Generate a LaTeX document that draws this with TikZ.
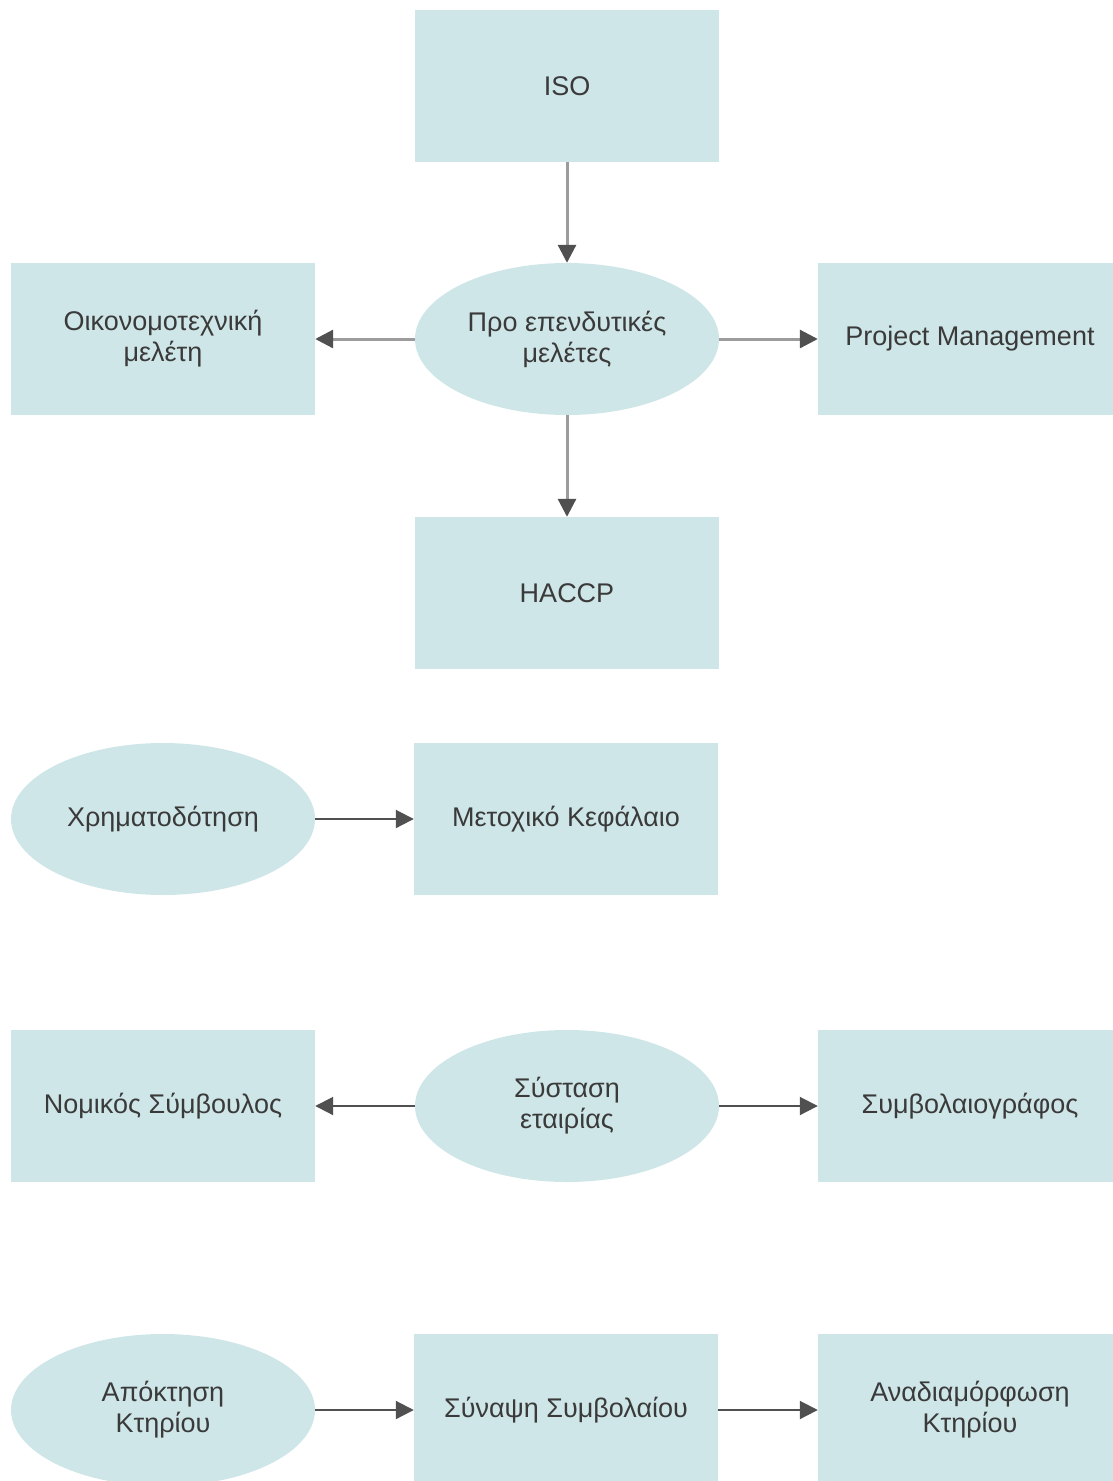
\documentclass[tikz,border=0pt]{standalone}
\usepackage{fontspec}
\setmainfont{Liberation Sans}
\usetikzlibrary{shapes.geometric,arrows.meta}
\definecolor{boxfill}{HTML}{CFE6E8}
\definecolor{txt}{HTML}{3A3A3A}
\definecolor{lightline}{HTML}{9C9C9C}
\definecolor{darkline}{HTML}{505050}
\tikzset{
  x=1pt, y=-1pt,
  base/.style={fill=boxfill, draw=none, inner sep=0pt, text=txt, align=center,
    font=\fontsize{27}{31}\selectfont},
  stepbox/.style={base, rectangle, minimum width=304pt, minimum height=152pt},
  oval/.style={base, ellipse, minimum width=304pt, minimum height=152pt},
  softarrow/.style={draw=lightline, line width=3pt,
    -{Triangle[length=18pt,width=18pt,color=darkline]}},
  hardarrow/.style={draw=darkline, line width=2pt,
    -{Triangle[length=18pt,width=18pt,color=darkline]}},
}
\begin{document}
\begin{tikzpicture}
\useasboundingbox (0,0) rectangle (1113,1481);
\clip (0,0) rectangle (1113,1481);

% pre-investment studies
\node[stepbox] (iso) at (567,86) {ISO};
\node[oval] (pre) at (567,339) {Προ επενδυτικές\\μελέτες};
\node[stepbox] (econ) at (163,339) {Οικονομοτεχνική\\μελέτη};
\node[stepbox] (pm) at (970,339) {Project Management};
\node[stepbox] (haccp) at (567,593) {HACCP};

\draw[softarrow] (iso) -- (pre);
\draw[softarrow] (pre) -- (econ);
\draw[softarrow] (pre) -- (pm);
\draw[softarrow] (pre) -- (haccp);

% funding
\node[oval] (fund) at (163,819) {Χρηματοδότηση};
\node[stepbox] (equity) at (566,819) {Μετοχικό Κεφάλαιο};
\draw[hardarrow] (fund) -- (equity);

% company formation
\node[oval] (found) at (567,1106) {Σύσταση\\εταιρίας};
\node[stepbox] (legal) at (163,1106) {Νομικός Σύμβουλος};
\node[stepbox] (notary) at (970,1106) {Συμβολαιογράφος};
\draw[hardarrow] (found) -- (legal);
\draw[hardarrow] (found) -- (notary);

% building
\node[oval] (buy) at (163,1410) {Απόκτηση\\Κτηρίου};
\node[stepbox] (contract) at (566,1410) {Σύναψη Συμβολαίου};
\node[stepbox] (refit) at (970,1410) {Αναδιαμόρφωση\\Κτηρίου};
\draw[hardarrow] (buy) -- (contract);
\draw[hardarrow] (contract) -- (refit);
\end{tikzpicture}
\end{document}
